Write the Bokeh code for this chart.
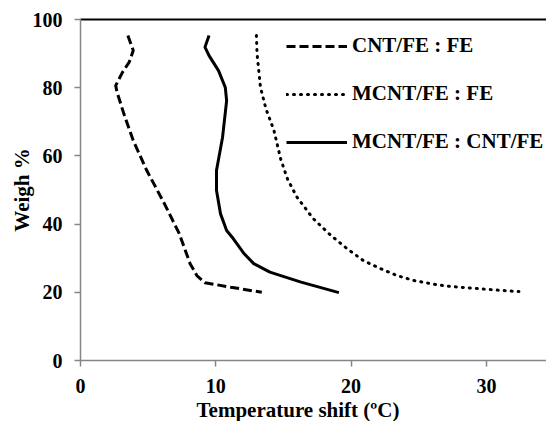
from bokeh.plotting import figure
from bokeh.models import Range1d, FixedTicker, LinearAxis, Legend, LegendItem, Title
from bokeh.embed import file_html
from bokeh.resources import INLINE

# CNT/FE : FE (dashed)
cnt_fe_x = [3.5, 3.9, 3.6, 3.1, 2.6, 2.7, 3.2, 3.9, 4.9, 6.2, 7.3, 8.1, 8.6, 9.2, 11.1, 13.4]
cnt_fe_y = [95.3, 90.9, 87.5, 84.5, 80.6, 78.7, 72.4, 64.5, 55.7, 46.0, 37.2, 28.4, 24.9, 22.8, 21.5, 20.0]

# MCNT/FE : FE (dotted)
mcnt_fe_x = [13.0, 13.05, 13.3, 13.7, 14.3, 14.8, 15.3, 16.0, 17.2, 18.5, 19.7, 20.9, 22.2, 23.4, 24.6, 25.9, 27.1, 29.6, 32.4]
mcnt_fe_y = [95.3, 89.9, 80.1, 73.9, 67.4, 59.0, 53.2, 47.9, 41.6, 36.7, 32.8, 29.3, 26.9, 24.9, 23.5, 22.5, 21.8, 21.0, 20.2]

# MCNT/FE : CNT/FE (solid)
mcnt_cnt_x = [9.5, 9.2, 9.5, 10.2, 10.7, 10.8, 10.5, 10.05, 10.05, 10.35, 10.8, 11.3, 12.1, 12.8, 14.0, 14.8, 16.3, 19.1]
mcnt_cnt_y = [95.3, 91.9, 89.4, 85.0, 80.1, 76.2, 65.5, 55.7, 49.9, 43.0, 38.1, 35.7, 31.3, 28.4, 25.9, 24.9, 23.0, 19.9]

x_ticks = [0, 10, 20, 30]
y_ticks = [0, 20, 40, 60, 80, 100]
series_names = ["CNT/FE : FE", "MCNT/FE : FE", "MCNT/FE : CNT/FE"]
x_title = "Temperature shift (ºC)"
y_title = "Weigh %"

FONT = "Liberation Serif"
GREY = "#868686"

p = figure(frame_width=466, frame_height=341, output_backend="svg", toolbar_location=None,
           x_range=Range1d(0, 34.44), y_range=Range1d(0, 100),
           min_border_left=80, min_border_top=19, min_border_bottom=0, min_border_right=0)
p.outline_line_color = None
p.xgrid.visible = False
p.ygrid.visible = False

for ax in (p.xaxis[0], p.yaxis[0]):
    ax.axis_line_color = GREY
    ax.axis_line_width = 1.5
    ax.major_tick_line_color = GREY
    ax.major_tick_line_width = 1.5
    ax.major_tick_out = 6
    ax.major_tick_in = 0
    ax.minor_tick_line_color = None
    ax.major_label_text_font = FONT
    ax.major_label_text_font_style = "bold"
    ax.major_label_text_font_size = "20px"
    ax.major_label_text_color = "black"
    ax.major_label_standoff = 12
    ax.axis_label_text_font = FONT
    ax.axis_label_text_font_style = "bold"
    ax.axis_label_text_color = "black"
    ax.axis_label_text_font_size = "21px"

p.xaxis[0].ticker = FixedTicker(ticks=x_ticks)
p.yaxis[0].ticker = FixedTicker(ticks=y_ticks)
p.yaxis[0].axis_label = y_title
p.yaxis[0].axis_label_standoff = -4

xt = Title(text=x_title, align="left", offset=116, standoff=0,
           text_font=FONT, text_font_style="bold", text_font_size="21px", text_color="black")
p.add_layout(xt, "below")

top = LinearAxis(ticker=FixedTicker(ticks=[]), major_label_text_font_size="0px",
                 major_tick_out=0, major_tick_in=0, minor_tick_out=0, minor_tick_in=0,
                 axis_line_color="black", axis_line_width=2)
p.add_layout(top, "above")

r1 = p.line(cnt_fe_x, cnt_fe_y, line_color="black", line_width=3, line_dash="9 4")
r2 = p.line(mcnt_fe_x, mcnt_fe_y, line_color="black", line_width=3, line_dash="1 6", line_cap="round")
r3 = p.line(mcnt_cnt_x, mcnt_cnt_y, line_color="black", line_width=3)

legend = Legend(items=[LegendItem(label=series_names[0], renderers=[r1]),
                       LegendItem(label=series_names[1], renderers=[r2]),
                       LegendItem(label=series_names[2], renderers=[r3])],
                location=(206, 206), glyph_width=61, glyph_height=20, label_standoff=5,
                spacing=23, padding=0, margin=0,
                border_line_color=None, background_fill_alpha=0,
                label_text_font=FONT, label_text_font_style="bold",
                label_text_font_size="21px", label_text_color="black")
p.add_layout(legend, "center")

open("out.html", "w").write(file_html(p, INLINE))
